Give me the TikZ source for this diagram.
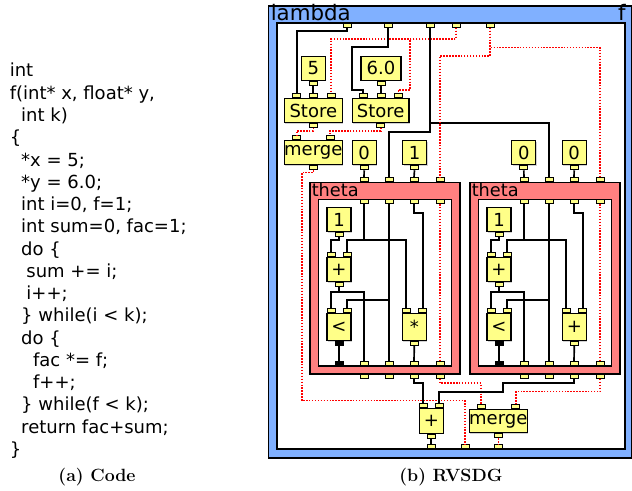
\documentclass[tikz,border=0pt]{standalone}
\usepackage{fontspec}
\usepackage{xcolor}
\newfontfamily\dgfont{DejaVu Sans}
\usetikzlibrary{shadows}
\definecolor{boxYellow}{HTML}{FFFF88}
\definecolor{thetaRed}{HTML}{FF8080}
\definecolor{lambdaBlue}{HTML}{80B0FF}
\tikzset{
  box/.style={draw, fill=boxYellow, line width=1pt, inner sep=0pt,
    minimum width=18pt, minimum height=18pt, font=\dgfont\fontsize{13.5}{15}\selectfont,
    drop shadow={shadow xshift=0.8pt, shadow yshift=-0.8pt, fill=black!35}},
  port/.style={draw, fill=boxYellow, line width=0.6pt, inner sep=0pt,
    minimum width=6pt, minimum height=3pt},
  iport/.style={port, anchor=south},
  oport/.style={port, anchor=north},
  wire/.style={line width=1.25pt},
  state/.style={red, line width=1.2pt, dash pattern=on 1.1pt off 1.1pt},
  region/.style={line width=1pt},
  title/.style={inner sep=0pt, font=\dgfont\fontsize{13.3}{15}\selectfont}
}

\begin{document}
\begin{tikzpicture}[x=0.75pt, y=-0.75pt]
  \useasboundingbox (0,0) rectangle (632,491);

  % source code
  \node[anchor=north west, align=left, inner sep=0pt,
    font=\dgfont\fontsize{13.5}{16.7}\selectfont] (code) at (9.5,63) {%
    int\\
    f(int* x, float* y,\\
    \hspace*{8.6pt}int k)\\
    \{\\
    \hspace*{8.6pt}*x = 5;\\
    \hspace*{8.6pt}*y = 6.0;\\
    \hspace*{8.6pt}int i=0, f=1;\\
    \hspace*{8.6pt}int sum=0, fac=1;\\
    \hspace*{8.6pt}do \{\\
    \hspace*{12.5pt}sum += i;\\
    \hspace*{12.5pt}i++;\\
    \hspace*{8.6pt}\} while(i < k);\\
    \hspace*{8.6pt}do \{\\
    \hspace*{17.5pt}fac *= f;\\
    \hspace*{17.5pt}f++;\\
    \hspace*{8.6pt}\} while(f < k);\\
    \hspace*{8.6pt}return fac+sum;\\
    \}};

  % lambda region
  \draw[region, fill=lambdaBlue] (268.5,6) rectangle (631.5,458);
  \draw[region, fill=white] (277,23) rectangle (625,449);
  \node[title, anchor=base west, font=\dgfont\fontsize{16}{18}\selectfont] (lname) at (270.5,20.5) {lambda};
  \node[title, anchor=base east, font=\dgfont\fontsize{16}{18}\selectfont] (fname) at (626,20.5) {f};
  \foreach \n/\x in {a1/347, a2/388, a3/430, a4/456, a5/490}
    \node[oport] (\n) at (\x,23) {};
  \foreach \n/\x in {r1/431.3, r2/465, r3/498.3}
    \node[iport] (\n) at (\x,449) {};

  % nodes of the lambda body
  \node[box] (c5) at (313.3,68.3) {5};
  \node[box, minimum width=30pt] (c6) at (381,68.3) {6.0};
  \node[box, minimum width=43.5pt] (st1) at (313.3,110.5) {Store};
  \node[box, minimum width=42.5pt] (st2) at (380.7,110.5) {Store};
  \node[box, minimum width=43.5pt] (mg1) at (313.3,152.8) {merge};
  \node[box] (c0a) at (364.2,152.8) {0};
  \node[box] (c1a) at (414.5,152.8) {1};
  \node[box] (c0b) at (523.8,152.8) {0};
  \node[box] (c0c) at (574.2,152.8) {0};
  \node[box, minimum height=18.8pt] (add) at (431.3,420.8) {+};
  \node[box, minimum width=43.5pt, minimum height=17.6pt] (mg2) at (498.3,421) {merge};

  \foreach \b in {c5, c6, c0a, c1a, c0b, c0c, st1, st2, mg1, add, mg2}
    \node[oport] (\b-o) at (\b.south) {};
  \node[iport] (st1-i1) at ([shift={(-16.6,0)}]st1.north) {};
  \node[iport] (st1-i2) at (st1.north) {};
  \node[iport] (st1-i3) at ([shift={(17.7,0)}]st1.north) {};
  \node[iport] (st2-i1) at ([shift={(-17.4,0)}]st2.north) {};
  \node[iport] (st2-i2) at ([shift={(0.3,0)}]st2.north) {};
  \node[iport] (st2-i3) at ([shift={(17.6,0)}]st2.north) {};
  \node[iport] (mg1-i1) at ([shift={(-16.6,0)}]mg1.north) {};
  \node[iport] (mg1-i2) at ([shift={(16.7,0)}]mg1.north) {};
  \node[iport] (add-i1) at ([shift={(-8,0)}]add.north) {};
  \node[iport] (add-i2) at ([shift={(8,0)}]add.north) {};
  \node[iport] (mg2-i1) at ([shift={(-17.3,0)}]mg2.north) {};
  \node[iport] (mg2-i2) at ([shift={(17.4,0)}]mg2.north) {};

  % the two theta regions
  \foreach \dx/\tn/\op in {0/ta/*, 160/tb/+} {
    \begin{scope}[shift={(\dx,0)}]
      \draw[region, fill=thetaRed, drop shadow={shadow xshift=0.8pt, shadow yshift=-0.8pt, fill=black!30}]
        (310,182.3) rectangle (460,374);
      \draw[region, fill=white] (318.3,199.3) rectangle (451.7,366);
      \node[title, anchor=base west] (\tn-name) at (311.5,196.5) {theta};
      \foreach \i/\x in {1/364, 2/389, 3/414, 4/440} {
        \node[iport] (\tn-to\i) at (\x,182.3) {};
        \node[oport] (\tn-ti\i) at (\x,199.3) {};
        \node[iport] (\tn-bi\i) at (\x,366) {};
        \node[oport] (\tn-tb\i) at (\x,374) {};
      }
      \node[iport, fill=black] (\tn-bp) at (339,366) {};

      \node[box] (\tn-one) at (339,219.7) {1};
      \node[box, minimum height=18.3pt] (\tn-inc) at (339,269.5) {+};
      \node[box, minimum height=20.5pt] (\tn-lt) at (339,327) {<};
      \node[box, minimum height=20.5pt] (\tn-op) at (414.3,327) {\op};
      \node[oport] (\tn-one-o) at (\tn-one.south) {};
      \node[oport] (\tn-inc-o) at (\tn-inc.south) {};
      \node[oport, fill=black] (\tn-lt-o) at (\tn-lt.south) {};
      \node[oport] (\tn-op-o) at (\tn-op.south) {};
      \node[iport] (\tn-inc-i1) at ([shift={(-8,0)}]\tn-inc.north) {};
      \node[iport] (\tn-inc-i2) at ([shift={(8,0)}]\tn-inc.north) {};
      \node[iport] (\tn-lt-i1) at ([shift={(-8,0)}]\tn-lt.north) {};
      \node[iport] (\tn-lt-i2) at ([shift={(8,0)}]\tn-lt.north) {};
      \node[iport] (\tn-op-i1) at ([shift={(-8.3,0)}]\tn-op.north) {};
      \node[iport] (\tn-op-i2) at ([shift={(8.4,0)}]\tn-op.north) {};

      % loop body edges
      \draw[wire] (\tn-one-o.south) |- (\tn-inc-i1 |- 0,240) -- (\tn-inc-i1.north);
      \draw[wire] (\tn-ti1.south) |- (\tn-inc-i2 |- 0,240) -- (\tn-inc-i2.north);
      \draw[wire] (\tn-ti1.south) |- (\tn-op-i1 |- 0,240) -- (\tn-op-i1.north);
      \draw[wire] (\tn-inc-o.south) |- (\tn-lt-i1 |- 0,291.7) -- (\tn-lt-i1.north);
      \draw[wire] (\tn-inc-o.south) |- (\tn-bi1 |- 0,291.7) -- (\tn-bi1.north);
      \draw[wire] (\tn-ti2.south) -- (\tn-bi2.north);
      \draw[wire] (\tn-ti2.south) |- (\tn-lt-i2 |- 0,300) -- (\tn-lt-i2.north);
      \draw[wire] (\tn-ti3.south) |- (\tn-op-i2 |- 0,213.3) -- (\tn-op-i2.north);
      \draw[wire] (\tn-op-o.south) -- (\tn-bi3.north);
      \draw[state] (\tn-ti4.south) -- (\tn-bi4.north);
      \draw[line width=1.8pt] (\tn-lt-o.south) -- (\tn-bp.north);
    \end{scope}
  }

  % edges of the lambda body
  \draw[wire] (a1.south) |- (st1-i1 |- 0,31) -- (st1-i1.north);
  \draw[wire] (c5-o.south) -- (st1-i2.north);
  \draw[state] (a4.south) |- (st1-i3 |- 0,39) -- (st1-i3.north);
  \draw[state] (a4.south) |- (410,39) |- (st2-i3 |- 0,90) -- (st2-i3.north);
  \draw[wire] (a2.south) |- (351.7,47.3) |- (st2-i1 |- 0,90) -- (st2-i1.north);
  \draw[wire] (c6-o.south) -- (st2-i2.north);
  \draw[state] (st1-o.south) |- (mg1-i1 |- 0,131) -- (mg1-i1.north);
  \draw[state] (st2-o.south) |- (mg1-i2 |- 0,131) -- (mg1-i2.north);
  \draw[wire] (a3.south) |- (ta-to2 |- 0,131.7) -- (ta-to2.north);
  \draw[wire] (a3.south) |- (tb-to2 |- 0,122.7) -- (tb-to2.north);
  \draw[state] (a5.south) |- (ta-to4 |- 0,56) -- (ta-to4.north);
  \draw[state] (a5.south) |- (tb-to4 |- 0,47.7) -- (tb-to4.north);
  \draw[wire] (c0a-o.south) -- (ta-to1.north);
  \draw[wire] (c1a-o.south) -- (ta-to3.north);
  \draw[wire] (c0b-o.south) -- (tb-to1.north);
  \draw[wire] (c0c-o.south) -- (tb-to3.north);
  \draw[state] (mg1-o.south) |- (301.7,172.7) |- (r2 |- 0,400.7) -- (r2.north);
  \draw[wire] (ta-tb3.south) |- (add-i1 |- 0,383.3) -- (add-i1.north);
  \draw[state] (ta-tb4.south) |- (mg2-i1 |- 0,383.3) -- (mg2-i1.north);
  \draw[wire] (tb-tb3.south) |- (502.7,382.7) |- (add-i2 |- 0,391.7) -- (add-i2.north);
  \draw[state] (tb-tb4.south) |- (mg2-i2 |- 0,391.7) -- (mg2-i2.north);
  \draw[wire] (add-o.south) -- (r1.north);
  \draw[state] (mg2-o.south) -- (r3.north);

  % captions
  \node[anchor=base, font=\bfseries\fontsize{13.3}{15}\selectfont] (capa) at (97,481) {(a) Code};
  \node[anchor=base, font=\bfseries\fontsize{13.3}{15}\selectfont] (capb) at (451,481) {(b) RVSDG};
\end{tikzpicture}
\end{document}
